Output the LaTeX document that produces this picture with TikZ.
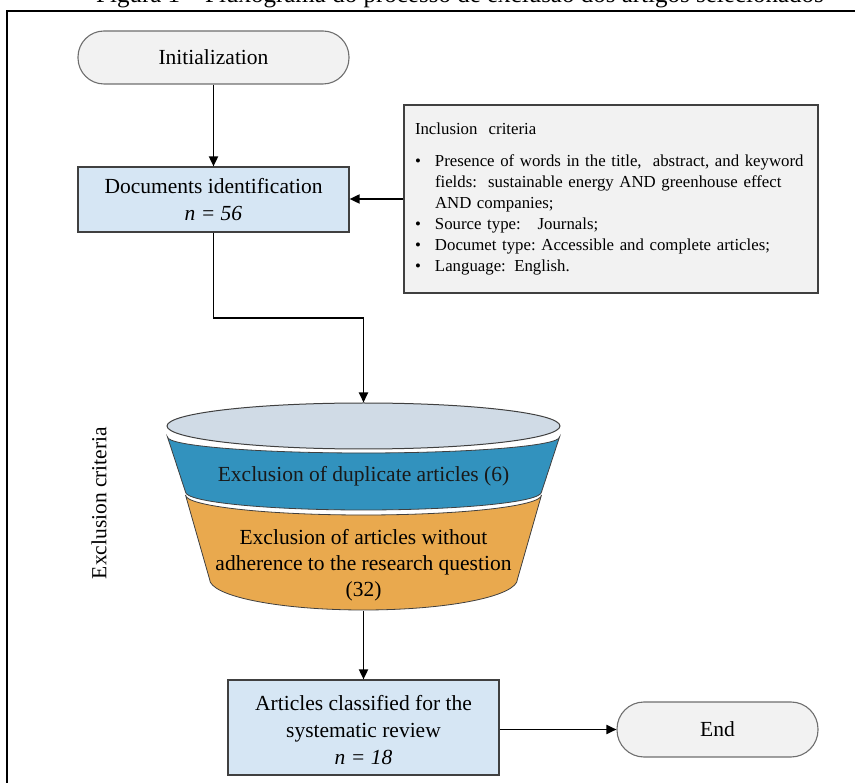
\documentclass[tikz,border=0pt]{standalone}
\usepackage{fontspec}
\setmainfont{Liberation Serif}
\usetikzlibrary{arrows.meta,shapes.geometric}
\definecolor{boxblue}{HTML}{D6E6F4}
\definecolor{grayfill}{HTML}{F2F2F2}
\definecolor{ellfill}{HTML}{D0DBE6}
\definecolor{bandblue}{HTML}{3292BE}
\definecolor{bandorange}{HTML}{E9A94E}
\definecolor{edgecol}{HTML}{404040}
\definecolor{termedge}{HTML}{6E6E6E}
\begin{document}
\begin{tikzpicture}[x=1pt,y=-1pt,
  mainfont/.style={font=\fontsize{21.5}{27}\selectfont},
  procbox/.style={draw=edgecol,line width=1.2pt,fill=boxblue,minimum width=271pt,inner sep=0pt,align=center,mainfont},
  terminal/.style={draw=termedge,line width=1.1pt,fill=grayfill,inner sep=0pt,mainfont},
  conn/.style={line width=1.8pt,-{Triangle[length=10pt,width=9pt]}},
  bandedge/.style={draw=edgecol,line width=0.8pt},
]
\useasboundingbox (0,0) rectangle (855,783);
\clip (0,0) rectangle (855,783);
% caption (cut off at the top, as in the source)
\node[font=\fontsize{25}{28}\selectfont,anchor=base,inner sep=0pt] (cap) at (460,3) {Figura 1 -- Fluxograma do processo de exclusão dos artigos selecionados};
% frame
\draw[line width=2pt] (7,800) -- (7,11) -- (870,11);
% terminals and boxes
\node[terminal,rounded corners=26pt,minimum width=271pt,minimum height=53pt] (init) at (213.5,57.5) {Initialization};
\node[procbox,minimum height=65pt] (docs) at (213.5,199.5) {Documents identification\\\textit{n = 56}};
\node[draw=edgecol,line width=1.3pt,fill=grayfill,minimum width=414pt,minimum height=188pt,inner sep=0pt,
      text width=392pt,align=left,font=\fontsize{16.8}{21}\selectfont] (incl) at (611,199)
 {\mbox{Inclusion\ \ criteria}\\[11pt]
  \mbox{\makebox[20pt][l]{\textbullet}Presence of words in the title,\ \ abstract, and keyword}\\
  \mbox{\hspace*{20pt}fields:\ \ sustainable energy AND greenhouse effect}\\
  \mbox{\hspace*{20pt}AND companies;}\\
  \mbox{\makebox[20pt][l]{\textbullet}Source type:\ \ \ Journals;}\\
  \mbox{\makebox[20pt][l]{\textbullet}Documet type:\ Accessible and complete articles;}\\
  \mbox{\makebox[20pt][l]{\textbullet}Language: English.}};
% funnel
\node[ellipse,draw=edgecol,line width=1pt,fill=ellfill,minimum width=393pt,minimum height=46pt,inner sep=0pt] (ftop) at (363.5,426) {};
\draw[bandedge,fill=bandblue] (167.5,437) arc[start angle=180,end angle=0,x radius=196,y radius=16]
  -- (541.5,492) arc[start angle=0,end angle=180,x radius=178,y radius=18] -- cycle;
\draw[bandedge,fill=bandorange] (185.5,495) arc[start angle=180,end angle=0,x radius=178,y radius=20]
  -- (517.5,579) arc[start angle=0,end angle=180,x radius=154,y radius=31] -- cycle;
\node[mainfont,text=black!90] (dup) at (363.5,476) {Exclusion of duplicate articles (6)};
\node[align=center,font=\fontsize{21.5}{26}\selectfont] (adh) at (363.5,565) {Exclusion of articles without\\adherence to the research question\\(32)};
\coordinate (fbot) at (363.5,611);
\node[mainfont,rotate=90] (exc) at (99,503) {Exclusion criteria};
% final boxes
\node[procbox,minimum height=95pt] (arts) at (363.5,727.5) {\rule{0pt}{20pt}Articles classified for the\\systematic review\\\textit{n = 18}};
\node[terminal,rounded corners=27pt,minimum width=201pt,minimum height=55pt] (endn) at (717.5,729.5) {End};
% connectors
\draw[conn] (init.south) -- (docs.north);
\draw[conn] (incl.west) -- (incl.west -| docs.east);
\draw[conn] (docs.south) |- (363.5,318) -- (ftop.north);
\draw[conn] (fbot) -- (arts.north);
\draw[conn] (arts.east |- endn.west) -- (endn.west);
\end{tikzpicture}
\end{document}
